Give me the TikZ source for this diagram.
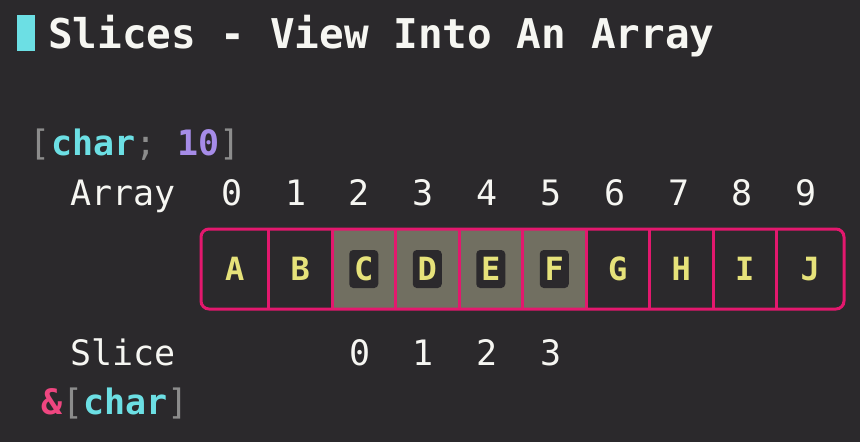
\documentclass[tikz,border=0pt]{standalone}
\usepackage{fontspec}
\setmainfont{DejaVu Sans Mono}
\usepackage{tikz}
\usetikzlibrary{positioning}
\definecolor{MyBack}{HTML}{2B292C}
\definecolor{MyCyan}{HTML}{6CDFE4}
\definecolor{MyPink}{HTML}{E3186E}
\definecolor{MyAmp}{HTML}{EF4680}
\definecolor{MyPurple}{HTML}{A68CE8}
\definecolor{MyGray}{HTML}{8C8C8C}
\definecolor{MyYellow}{HTML}{E6E27A}
\definecolor{MyOlive}{HTML}{716F61}
\definecolor{MyWhite}{HTML}{F6F6F2}

\begin{document}
\begin{tikzpicture}[x=1pt, y=-1pt, every node/.style={inner sep=0pt, outer sep=0pt},
		code/.style={font=\fontsize{35}{35}\selectfont, text=MyWhite, anchor=base west},
		idx/.style={font=\fontsize{35}{35}\selectfont, text=MyWhite, anchor=base},
		cell/.style={minimum height=80pt, minimum width=63.5pt},
		letter/.style={font=\bfseries\fontsize{32}{32}\selectfont, text=MyYellow},
		badge/.style={letter, fill=MyBack, rounded corners=4pt, minimum width=29pt, minimum height=38pt},
		frame/.style={draw=MyPink, line width=3pt}]
	\fill[MyBack] (0,0) rectangle (860,442);
	\useasboundingbox (0,0) rectangle (860,442);
	
	% title
	\fill[MyCyan] (17,15) rectangle (35,51);
	\node[anchor=base west, text=MyWhite, font=\bfseries\fontsize{41}{41}\selectfont] (title) at (48,48) {Slices - View Into An Array};
	
	% array type and indices
	\node[code] (arrtype) at (30,155) {\textcolor{MyGray}{[}\textcolor{MyCyan}{\bfseries char}\textcolor{MyGray}{;} \textcolor{MyPurple}{\bfseries 10}\textcolor{MyGray}{]}};
	\node[code] (arrlabel) at (70,205) {Array};
	\node[idx] (i0) at (232,205) {0};
	\node[idx] (i1) at (296,205) {1};
	\node[idx] (i2) at (359,205) {2};
	\node[idx] (i3) at (423,205) {3};
	\node[idx] (i4) at (487,205) {4};
	\node[idx] (i5) at (551,205) {5};
	\node[idx] (i6) at (615,205) {6};
	\node[idx] (i7) at (679,205) {7};
	\node[idx] (i8) at (742,205) {8};
	\node[idx] (i9) at (806,205) {9};
	
	% cells
	\node[cell, minimum width=67.5pt] (c0) at (234.75,269) {};
	\node[cell] (c1) at (300.25,269) {};
	\node[cell, fill=MyOlive] (c2) at (363.75,269) {};
	\node[cell, fill=MyOlive] (c3) at (427.25,269) {};
	\node[cell, fill=MyOlive] (c4) at (490.75,269) {};
	\node[cell, fill=MyOlive] (c5) at (554.25,269) {};
	\node[cell] (c6) at (617.75,269) {};
	\node[cell] (c7) at (681.25,269) {};
	\node[cell] (c8) at (744.75,269) {};
	\node[cell, minimum width=67.5pt] (c9) at (810.25,269) {};
	
	\draw[frame] (c0.north east) -- (c0.south east);
	\draw[frame] (c1.north east) -- (c1.south east);
	\draw[frame] (c2.north east) -- (c2.south east);
	\draw[frame] (c3.north east) -- (c3.south east);
	\draw[frame] (c4.north east) -- (c4.south east);
	\draw[frame] (c5.north east) -- (c5.south east);
	\draw[frame] (c6.north east) -- (c6.south east);
	\draw[frame] (c7.north east) -- (c7.south east);
	\draw[frame] (c8.north east) -- (c8.south east);
	\draw[frame, rounded corners=8pt] (c0.north west) rectangle (c9.south east);
	
	\node[letter] (la) at (c0) {A};
	\node[letter] (lb) at (c1) {B};
	\node[badge] (lc) at (c2) {C};
	\node[badge] (ld) at (c3) {D};
	\node[badge] (le) at (c4) {E};
	\node[badge] (lf) at (c5) {F};
	\node[letter] (lg) at (c6) {G};
	\node[letter] (lh) at (c7) {H};
	\node[letter] (li) at (c8) {I};
	\node[letter] (lj) at (c9) {J};
	
	% slice
	\node[code] (slicelabel) at (70,365) {Slice};
	\node[idx] (s0) at (360,365) {0};
	\node[idx] (s1) at (423,365) {1};
	\node[idx] (s2) at (487,365) {2};
	\node[idx] (s3) at (551,365) {3};
	\node[code] (slicetype) at (41,414) {\textcolor{MyAmp}{\bfseries\&}\textcolor{MyGray}{[}\textcolor{MyCyan}{\bfseries char}\textcolor{MyGray}{]}};
\end{tikzpicture}
\end{document}
